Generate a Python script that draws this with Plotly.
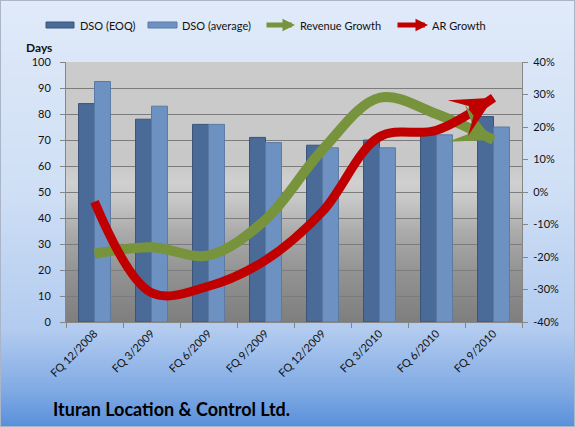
import base64, math, struct, zlib
import plotly.graph_objects as go

# ---------------- data ----------------
quarters = ["FQ 12/2008", "FQ 3/2009", "FQ 6/2009", "FQ 9/2009",
            "FQ 12/2009", "FQ 3/2010", "FQ 6/2010", "FQ 9/2010"]
dso_eoq = [84, 78, 76, 71, 68, 70, 72, 79]
dso_avg = [92.5, 83, 76, 69, 67, 67, 72, 75]
revenue_growth = [-19, -17, -19.5, -8.5, 13, 29, 24, 16]   # %
ar_growth = [-3, -31, -29, -21, -6, 17, 19, 29]             # %
series_names = ["DSO (EOQ)", "DSO (average)", "Revenue Growth", "AR Growth"]
days_ticks = list(range(0, 101, 10))
pct_ticks = list(range(-40, 41, 10))
pct_labels = [f"{v}%" for v in pct_ticks]

# ---------------- styling ----------------
W, H = 575, 427
L, R, T, B = 66, 53, 62, 105
PW, PH = W - L - R, H - T - B
FONT = "Lato"
C_EOQ, C_AVG = "#4a6b98", "#6d92c2"
C_REV, C_AR = "#77933c", "#c00000"
Y2MIN, Y2MAX = -40, 40


def px_x(p):
    return (p - L) / PW


def px_y(p):
    return (H - B - p) / PH


def lerp_stops(stops, v):
    for (a, ca), (b, cb) in zip(stops, stops[1:]):
        if a <= v <= b:
            t = 0 if b == a else (v - a) / (b - a)
            return tuple(int(round(ca[i] + (cb[i] - ca[i]) * t)) for i in range(3))
    return stops[-1][1] if v > stops[-1][0] else stops[0][1]


# background gradient image (paper + plot area)
paper_stops = [(0, (224, 234, 249)), (190, (207, 223, 245)), (330, (178, 203, 239)),
               (390, (128, 170, 228)), (427, (88, 143, 218))]
plot_stops = [(T, (203, 203, 203)), (165, (200, 200, 200)), (182, (208, 208, 208)),
              (198, (200, 200, 200)), (235, (168, 168, 168)), (275, (145, 145, 145)),
              (H - B, (126, 126, 126))]
rows = []
border = (170, 182, 200)
for y in range(H):
    pc = lerp_stops(paper_stops, y)
    row = bytearray(b"\x00")
    inplot = T <= y < H - B
    gc = lerp_stops(plot_stops, y) if inplot else None
    for x in range(W):
        if x in (0, W - 1) or y in (0, H - 1):
            c = border
        elif inplot and L <= x < W - R:
            c = gc
        else:
            c = pc
        row += bytes(c)
    rows.append(bytes(row))
raw = b"".join(rows)


def chunk(tag, data):
    c = struct.pack(">I", len(data)) + tag + data
    return c + struct.pack(">I", zlib.crc32(tag + data) & 0xffffffff)


png = b"\x89PNG\r\n\x1a\n" + chunk(b"IHDR", struct.pack(">IIBBBBB", W, H, 8, 2, 0, 0, 0)) \
    + chunk(b"IDAT", zlib.compress(raw, 9)) + chunk(b"IEND", b"")
bg_uri = "data:image/png;base64," + base64.b64encode(png).decode()

# ---------------- figure ----------------
fig = go.Figure()
fig.add_trace(go.Bar(x=quarters, y=dso_eoq, name=series_names[0], marker_color=C_EOQ,
                     marker_line=dict(color="#3a5478", width=1), yaxis="y"))
fig.add_trace(go.Bar(x=quarters, y=dso_avg, name=series_names[1], marker_color=C_AVG,
                     marker_line=dict(color="#5a7aa5", width=1), yaxis="y"))

n = len(quarters)
annotations = []
for vals, col, w, asz, name in [(revenue_growth, C_REV, 10, 0.68, series_names[2]),
                                (ar_growth, C_AR, 9, 0.76, series_names[3])]:
    fig.add_trace(go.Scatter(
        x=quarters, y=vals, name=name, yaxis="y2", mode="lines",
        line=dict(color=col, width=w, shape="spline", smoothing=1.0,
                  backoff=[0] * (n - 1) + [16]),
    ))
    # arrow head at the last point, pointing along the last segment
    dx = PW / n
    dy = -(vals[-1] - vals[-2]) * PH / (Y2MAX - Y2MIN)
    d = math.hypot(dx, dy)
    ux, uy = dx / d, dy / d
    annotations.append(dict(xref="x", yref="y2", x=quarters[-1], y=vals[-1],
                            ax=-28 * ux, ay=-28 * uy, text="", showarrow=True,
                            arrowhead=3, arrowsize=asz, arrowwidth=w, arrowcolor=col))

axis_font = dict(family=FONT, size=11, color="#111111")
fig.update_layout(
    width=W, height=H,
    margin=dict(l=L, r=R, t=T, b=B, pad=0),
    paper_bgcolor="#dfe9f8", plot_bgcolor="rgba(0,0,0,0)",
    showlegend=False, barmode="group", bargap=0.44, bargroupgap=0.0,
    font=dict(family=FONT, size=11, color="#111111"),
    xaxis=dict(type="category", tickangle=-45, tickfont=axis_font,
               showline=True, linecolor="#868686", linewidth=1,
               ticks="outside", ticklen=5, tickcolor="#868686", tickson="boundaries",
               showgrid=False),
    yaxis=dict(range=[0, 100], tickvals=days_ticks, tickfont=axis_font,
               showline=True, linecolor="#868686", linewidth=1,
               ticks="outside", ticklen=5, tickcolor="#868686", ticklabelstandoff=7,
               showgrid=True, gridcolor="#7c7c7c", gridwidth=1, zeroline=False),
    yaxis2=dict(range=[Y2MIN, Y2MAX], tickvals=pct_ticks, ticktext=pct_labels,
                tickfont=axis_font, overlaying="y", side="right", showline=True,
                linecolor="#868686", linewidth=1, ticks="outside", ticklen=5,
                tickcolor="#868686", ticklabelstandoff=3,
                showgrid=False, zeroline=False),
    images=[dict(source=bg_uri, xref="paper", yref="paper", x=px_x(0), y=px_y(0),
                 sizex=W / PW, sizey=H / PH, xanchor="left", yanchor="top",
                 sizing="stretch", layer="below")],
)

# custom legend
leg_y = 25
shapes = []
for (x0, x1, col, lc) in [(46, 74, C_EOQ, "#3a5478"), (148, 177, C_AVG, "#5a7aa5")]:
    shapes.append(dict(type="rect", xref="paper", yref="paper",
                       x0=px_x(x0), x1=px_x(x1), y0=px_y(leg_y + 3), y1=px_y(leg_y - 3),
                       fillcolor=col, line=dict(color=lc, width=1)))
for (x0, x1, col) in [(265, 295, C_REV), (396, 428, C_AR)]:
    annotations.append(dict(xref="paper", yref="paper", x=px_x(x1), y=px_y(leg_y),
                            ax=-(x1 - x0), ay=0, text="", showarrow=True,
                            arrowhead=2, arrowsize=0.5, arrowwidth=5, arrowcolor=col))
for name, x in zip(series_names, [78, 180, 298, 430]):
    annotations.append(dict(xref="paper", yref="paper", x=px_x(x), y=px_y(leg_y),
                            xanchor="left", yanchor="middle", text=name, showarrow=False,
                            font=dict(family=FONT, size=11, color="#111111")))
annotations.append(dict(xref="paper", yref="paper", x=px_x(39), y=px_y(47),
                        xanchor="center", yanchor="middle", text="<b>Days</b>",
                        showarrow=False, font=dict(family=FONT, size=12, color="#111111")))
annotations.append(dict(xref="paper", yref="paper", x=px_x(51), y=px_y(409),
                        xanchor="left", yanchor="middle",
                        text="<b>Ituran Location & Control Ltd.</b>",
                        showarrow=False, font=dict(family=FONT, size=18, color="#000000")))
fig.update_layout(shapes=shapes, annotations=annotations)

fig.write_html("out.html")
